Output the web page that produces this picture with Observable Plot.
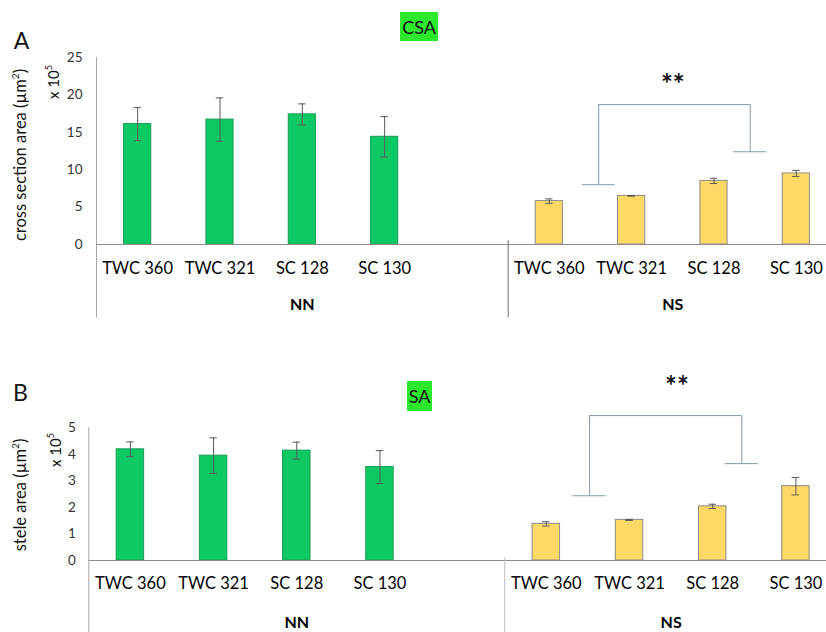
<!DOCTYPE html>
<html><head><meta charset="utf-8">
<script src="https://cdn.jsdelivr.net/npm/d3@7"></script>
<script src="https://cdn.jsdelivr.net/npm/@observablehq/plot@0.6"></script>
<style>
html,body{margin:0;padding:0;background:#fff;overflow:hidden;}
#wrap{position:relative;width:826px;height:632px;overflow:hidden;font-family:Lato,"Open Sans",sans-serif;color:#111;}
.panel{position:absolute;left:0;}
.abs{position:absolute;white-space:nowrap;line-height:1;}
.rot{transform:translate(-50%,-50%) rotate(-90deg);}
.ctr{transform:translate(-50%,-50%);}
.tag{position:absolute;background:#2ee82e;display:flex;align-items:center;justify-content:center;font-size:18px;color:#111;}
sup{font-size:0.62em;vertical-align:0.7em;line-height:0;}
</style></head><body><div id="wrap"></div>
<script>
// ---- data ----
const cultivars = ["TWC 360", "TWC 321", "SC 128", "SC 130"];
const groups = ["NN", "NS"];
// cross section area (x 10^5 µm²)
const csaNN = [16.1, 16.7, 17.4, 14.4];
const csaNNErr = [2.2, 2.9, 1.4, 2.7];
const csaNS = [5.8, 6.5, 8.5, 9.5];
const csaNSErr = [0.3, 0.05, 0.35, 0.4];
// stele area (x 10^5 µm²)
const saNN = [4.19, 3.95, 4.14, 3.52];
const saNNErr = [0.28, 0.67, 0.32, 0.62];
const saNS = [1.38, 1.53, 2.04, 2.80];
const saNSErr = [0.08, 0.02, 0.08, 0.33];
const csaTicks = [0, 5, 10, 15, 20, 25];
const saTicks = [0, 1, 2, 3, 4, 5];
// significance brackets (x in category slots, y in data units)
const csaBracket = {x1: 6.1, x2: 7.94, top: 18.7, foot1: 8.0, foot2: 12.4, starX: 7.0, starY: 21.3, label: "**"};
const saBracket = {x1: 6.02, x2: 7.85, top: 5.46, foot1: 2.44, foot2: 3.65, starX: 7.07, starY: 6.55, label: "**"};

// ---- layout helpers ----
const NSLOTS = 9;             // NN: slots 0-4 (last empty), NS: slots 5-8
const groupStart = [0, 5];
const groupCenter = [2.5, 7];
const barHalf = 0.165, capHalf = 0.045, footHalf = 0.2;
const green = "#0cc963", greenStroke = "#1a9e55";
const yellow = "#ffd966", yellowStroke = "#8a8a8a";

function rows(nn, nnE, ns, nsE) {
  const r = [];
  cultivars.forEach((c, i) => r.push({c, g: "NN", x: groupStart[0] + i + 0.5, v: nn[i], e: nnE[i]}));
  cultivars.forEach((c, i) => r.push({c, g: "NS", x: groupStart[1] + i + 0.5, v: ns[i], e: nsE[i]}));
  return r;
}

function panel(opt) {
  const data = rows(...opt.series);
  const catTicks = data.map(d => d.x);
  const catName = new Map(data.map(d => [d.x, d.c]));
  const grpName = new Map(groupCenter.map((x, i) => [x, groups[i]]));
  const b = opt.bracket;
  const ymax = opt.ticks[opt.ticks.length - 1];
  return Plot.plot({
    width: 826, height: opt.height,
    marginLeft: opt.left, marginRight: 0, marginTop: opt.y1, marginBottom: opt.height - opt.y0,
    style: {fontFamily: "Lato, 'Open Sans', sans-serif", fontSize: "13px", overflow: "visible", background: "transparent"},
    x: {type: "linear", domain: [0, NSLOTS], range: [opt.left, opt.right]},
    y: {type: "linear", domain: [0, ymax], range: [opt.y0, opt.y1]},
    marks: [
      // y axis tick labels
      Plot.axisY(opt.ticks, {tickSize: 0, tickPadding: opt.tickPad, fontSize: 13.5, fill: "#333", label: null}),
      // category labels and group labels
      Plot.axisX(catTicks, {tickSize: 0, tickPadding: opt.catPad, fontSize: 16.5, fill: "#000", tickFormat: d => catName.get(d), label: null}),
      Plot.axisX(groupCenter, {tickSize: 0, tickPadding: opt.grpPad, fontSize: 16, fontWeight: "bold", fill: "#000", tickFormat: d => grpName.get(d), label: null}),
      // bars
      Plot.rectY(data, {x1: d => d.x - barHalf, x2: d => d.x + barHalf, y1: 0, y2: "v",
        fill: d => d.g === "NN" ? green : yellow, stroke: d => d.g === "NN" ? greenStroke : yellowStroke, strokeWidth: 1}),
      // baseline
      Plot.ruleY([0], {x1: 0, x2: NSLOTS, stroke: "#8c8c8c", strokeWidth: 1}),
      // y axis line & group dividers
      Plot.ruleX([0], {y1: ymax, y2: opt.below, stroke: "#a6a6a6", strokeWidth: 1}),
      Plot.ruleX([groupStart[1]], {y1: opt.divTop, y2: opt.below, stroke: opt.divColor, strokeWidth: 1}),
      // error bars
      Plot.ruleX(data, {x: "x", y1: d => d.v - d.e, y2: d => d.v + d.e, stroke: "#595959", strokeWidth: 1}),
      Plot.ruleY(data, {y: d => d.v + d.e, x1: d => d.x - capHalf, x2: d => d.x + capHalf, stroke: "#595959", strokeWidth: 1}),
      Plot.ruleY(data, {y: d => d.v - d.e, x1: d => d.x - capHalf, x2: d => d.x + capHalf, stroke: "#595959", strokeWidth: 1}),
      // significance bracket
      Plot.ruleX([b.x1], {y1: b.foot1, y2: b.top, stroke: "#8497b0", strokeWidth: 1}),
      Plot.ruleX([b.x2], {y1: b.foot2, y2: b.top, stroke: "#8497b0", strokeWidth: 1}),
      Plot.ruleY([b.top], {x1: b.x1, x2: b.x2, stroke: "#8497b0", strokeWidth: 1}),
      Plot.ruleY([b.foot1], {x1: b.x1 - footHalf, x2: b.x1 + footHalf, stroke: "#8497b0", strokeWidth: 1}),
      Plot.ruleY([b.foot2], {x1: b.x2 - footHalf, x2: b.x2 + footHalf, stroke: "#8497b0", strokeWidth: 1}),
      Plot.text([b], {x: "starX", y: "starY", text: "label", fontSize: 28, fontWeight: "bold", fill: "#111", style: "letter-spacing:2px"})
    ]
  });
}

const wrap = document.getElementById("wrap");
function place(node, top) { const d = document.createElement("div"); d.className = "panel"; d.style.top = top + "px"; d.appendChild(node); wrap.appendChild(d); }

place(panel({series: [csaNN, csaNNErr, csaNS, csaNSErr], ticks: csaTicks, bracket: csaBracket,
  height: 330, left: 96, right: 837, y0: 244, y1: 57, tickPad: 14, catPad: 18, grpPad: 54,
  below: -9.8, divTop: 0.5, divColor: "#6e6e6e"}), 0);
place(panel({series: [saNN, saNNErr, saNS, saNSErr], ticks: saTicks, bracket: saBracket,
  height: 302, left: 88.3, right: 837, y0: 230, y1: 97.3, tickPad: 13, catPad: 17, grpPad: 56,
  below: -3, divTop: 0.1, divColor: "#bdbdbd"}), 330);

function html(s) { wrap.insertAdjacentHTML("beforeend", s); }
html('<div class="abs ctr" style="left:21.5px;top:40px;font-size:23px;">A</div>');
html('<div class="abs ctr" style="left:20.5px;top:392px;font-size:23px;">B</div>');
html('<div class="tag" style="left:400px;top:12px;width:38px;height:29px;">CSA</div>');
html('<div class="tag" style="left:407px;top:381px;width:25px;height:30px;">SA</div>');
html('<div class="abs rot" style="left:20px;top:155px;font-size:16.5px;">cross section area (µm<sup>2</sup>)</div>');
html('<div class="abs rot" style="left:53px;top:82px;font-size:15px;">x 10<sup>5</sup></div>');
html('<div class="abs rot" style="left:20px;top:495px;font-size:16.5px;">stele area (µm<sup>2</sup>)</div>');
html('<div class="abs rot" style="left:55px;top:450px;font-size:15px;">x 10<sup>5</sup></div>');
</script></body></html>
